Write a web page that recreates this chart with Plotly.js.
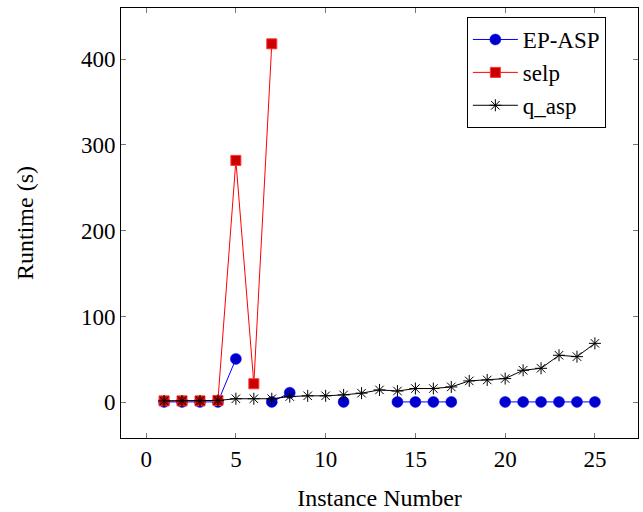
<!DOCTYPE html>
<html>
<head>
<meta charset="utf-8">
<script src="https://cdn.plot.ly/plotly-3.0.1.min.js"></script>
<style>html,body{margin:0;padding:0;background:#fff;}</style>
</head>
<body>
<div id="chart" style="width:643px;height:512px;"></div>
<script>
const instances = [1,2,3,4,5,6,7,8,9,10,11,12,13,14,15,16,17,18,19,20,21,22,23,24,25];
const epAsp = [0.3,0.3,0.3,0.3,50.5,null,0.3,11,null,null,0.3,null,null,0.3,0.3,0.3,0.3,null,null,0.3,0.3,0.3,0.3,0.3,0.3];
const selpX = [1,2,3,4,5,6,7];
const selp = [1.5,1.5,1.5,2,282,21.5,418];
const qAsp = [1.5,1.5,1.5,2,4,4,4,6.5,7.4,7.4,8.5,10.5,14.3,13,15.9,15.9,17.8,24.8,25.9,27.5,37.2,39.5,54.7,53.1,68.6];
const seriesNames = ['EP-ASP','selp','q_asp'];
const xTicks = [0,5,10,15,20,25];
const yTicks = [0,100,200,300,400];

const font = 'Liberation Serif';
const traces = [
  {x: instances, y: epAsp, name: seriesNames[0], mode: 'lines+markers', connectgaps: false,
   line: {color: '#0000ff', width: 1},
   marker: {symbol: 'circle', size: 11, color: '#0000cc', line: {color: '#0000ff', width: 0.5}}},
  {x: selpX, y: selp, name: seriesNames[1], mode: 'lines+markers',
   line: {color: '#ff0000', width: 1},
   marker: {symbol: 'square', size: 10, color: '#cc0000', line: {color: '#ff3333', width: 1}}},
  {x: instances, y: qAsp, name: seriesNames[2], mode: 'lines+markers',
   line: {color: '#000000', width: 1},
   marker: {symbol: 'asterisk-open', size: 10, color: '#000000', line: {color: '#000000', width: 1}}}
];

const axisCommon = {
  showline: true, linecolor: '#000', linewidth: 1, mirror: 'ticks',
  ticks: 'inside', ticklen: 5, tickcolor: '#777', tickwidth: 1,
  showgrid: false, zeroline: false,
  tickfont: {family: font, size: 23, color: '#000'}
};

const layout = {
  width: 643, height: 512,
  margin: {l: 121, r: 5, t: 8, b: 74},
  paper_bgcolor: '#fff', plot_bgcolor: '#fff',
  font: {family: font, color: '#000'},
  xaxis: Object.assign({}, axisCommon, {
    range: [-1.4, 27.4], tickvals: xTicks, ticktext: xTicks.map(String),
    title: {text: 'Instance Number', font: {family: font, size: 24, color: '#000'}, standoff: 18}
  }),
  yaxis: Object.assign({}, axisCommon, {
    range: [-41.8, 459.8], tickvals: yTicks, ticktext: yTicks.map(String),
    title: {text: 'Runtime (s)', font: {family: font, size: 24, color: '#000'}, standoff: 40}
  }),
  legend: {
    x: 0.669, y: 0.979, xanchor: 'left', yanchor: 'top',
    bordercolor: '#000', borderwidth: 1, bgcolor: '#fff',
    font: {family: font, size: 23, color: '#000'},
    tracegroupgap: 0, itemwidth: 45
  },
  showlegend: true
};

Plotly.newPlot('chart', traces, layout, {displayModeBar: false, staticPlot: true});
</script>
</body>
</html>
